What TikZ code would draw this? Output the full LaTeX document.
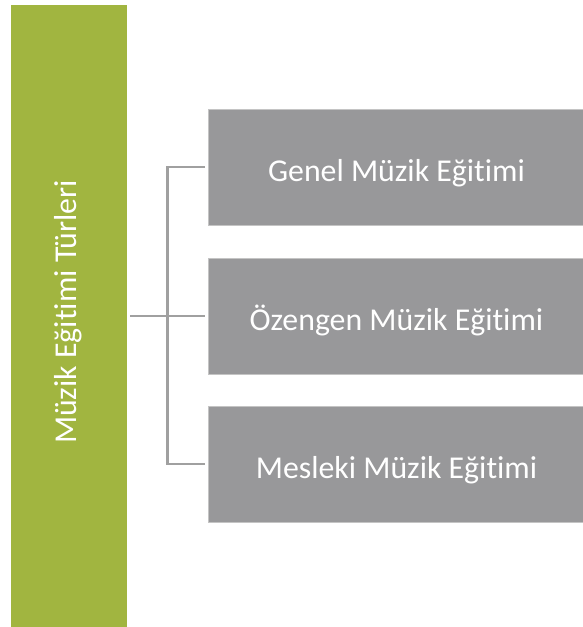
\documentclass[tikz,border=0pt]{standalone}
\usepackage{fontspec}
\setmainfont{Carlito}[RawFeature={-liga;-clig;-calt;-dlig;-rlig}]
\definecolor{barGreen}{HTML}{A1B540}
\definecolor{boxGray}{HTML}{98989A}
\definecolor{edgeGray}{HTML}{C4C4C4}
\definecolor{lineGray}{HTML}{A0A0A0}
\newcommand{\egt}{Eği\kern0pt t\kern0pt imi}
\tikzset{
  catbox/.style={fill=boxGray, draw=edgeGray, line width=1pt, minimum width=376pt, minimum height=116pt, inner sep=0pt, anchor=north west, text=white, text height=33pt, text depth=6pt, font=\fontsize{31.8}{38}\selectfont},
  conn/.style={draw=lineGray, line width=2.2pt}
}
\begin{document}
\begin{tikzpicture}[x=1pt,y=-1pt]
\useasboundingbox (0,0) rectangle (582,627);
\fill[barGreen] (11,5) rectangle (127,627);
\node[text=white, font=\fontsize{31.8}{38}\selectfont, rotate=90, inner sep=0pt] (root) at (68,312) {Müzik \egt{} Türleri};
\coordinate (rootR) at (130,316);
\node[catbox] (b1) at (208,109) {Genel Müzik \egt};
\node[catbox] (b2) at (208,258) {Özengen Müzik \egt};
\node[catbox] (b3) at (208,406) {Mesleki Müzik \egt};
\coordinate (j) at (167.5,316);
\coordinate (t1) at (205,167);
\coordinate (t2) at (205,316);
\coordinate (t3) at (205,464);
\draw[conn] (rootR) -- (t2);
\draw[conn] (t1) -| (j) |- (t3);
\end{tikzpicture}
\end{document}
